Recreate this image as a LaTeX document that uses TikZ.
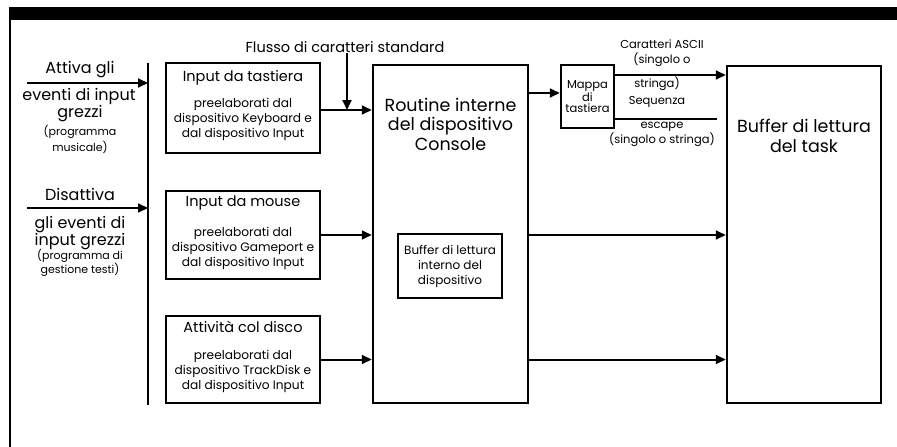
\documentclass[tikz,border=0pt]{standalone}
\usepackage{fontspec}
\setmainfont{Poppins}
\usetikzlibrary{arrows.meta}
\begin{document}
\begin{tikzpicture}[x=1pt,y=-1pt,
  box/.style={draw,line width=2.5pt,inner sep=0pt,fill=white},
  arr/.style={line width=2pt,-{Triangle[length=10pt,width=9pt]}},
  plain/.style={line width=2pt},
  lbl/.style={inner sep=0pt,align=center,font=\fontsize{14.5}{17}\selectfont},
  lft/.style={inner sep=0pt,align=center,font=\fontsize{16}{17.5}\selectfont},
  sml/.style={inner sep=0pt,align=center,font=\fontsize{11.5}{15}\selectfont},
  sub/.style={inner sep=0pt,align=center,font=\fontsize{12.2}{15}\selectfont},
  big/.style={inner sep=0pt,align=center,font=\fontsize{17.5}{19.5}\selectfont}]
\useasboundingbox (0,0) rectangle (897,447);
% frame
\fill (9,7) rectangle (897,20);
\draw[line width=2pt] (10,7) -- (10,447);
% vertical bar
\coordinate (bt) at (148,63);
\coordinate (bb) at (148,405);
\draw[line width=1.5pt] (bt) -- (bb);
% left labels and arrows
\coordinate (a1) at (27,83);
\coordinate (a2) at (27,208);
\draw[arr] (a1) -- (a1 -| bt);
\draw[arr] (a2) -- (a2 -| bt);
\node[lft] (t1) at (80,70) {Attiva gli};
\node[lft] (t2) at (79,96) {eventi di input};
\node[lft] (t3) at (80,114) {grezzi};
\node[sml,font=\fontsize{11}{16}\selectfont] (t4) at (80,139) {(programma\\musicale)};
\node[lft] (t5) at (80,194) {Disattiva};
\node[lft] (t6) at (80,233) {gli eventi di\\input grezzi};
\node[sml,font=\fontsize{11}{14}\selectfont] (t7) at (80,263) {(programma di\\gestione testi)};
% input boxes
\node[box,minimum width=154pt,minimum height=90pt] (kb) at (243,108) {};
\node[box,minimum width=154pt,minimum height=88pt] (ms) at (243,235) {};
\node[box,minimum width=154pt,minimum height=87pt] (dk) at (243,359.5) {};
\node[lbl] (kbt) at (243,78) {Input da tastiera};
\node[sub] (kbs) at (243,119) {preelaborati dal\\dispositivo Keyboard e\\dal dispositivo Input};
\node[lbl] (mst) at (243,203) {Input da mouse};
\node[sub] (mss) at (243,248) {preelaborati dal\\dispositivo Gameport e\\dal dispositivo Input};
\node[lbl] (dkt) at (243,327) {Attività col disco};
\node[sub] (dks) at (243,371) {preelaborati dal\\dispositivo TrackDisk e\\dal dispositivo Input};
% console
\node[box,minimum width=155pt,minimum height=338pt] (con) at (450.5,234) {};
\node[big] (cont) at (450.5,124) {Routine interne\\del dispositivo\\Console};
\node[box,minimum width=104pt,minimum height=64pt,align=center,
  font=\fontsize{12}{15}\selectfont] (ib) at (450,266) {Buffer di lettura\\interno del\\dispositivo};
% mappa
\node[box,minimum width=53pt,minimum height=63pt,align=center,
  font=\fontsize{11.5}{11.5}\selectfont] (map) at (587.5,96.5) {Mappa\\di\\tastiera};
% task buffer
\node[box,minimum width=154pt,minimum height=337pt] (task) at (804,234.5) {};
\node[big] (taskt) at (804,136) {Buffer di lettura\\del task};
% flusso
\node[lbl] (fl) at (345,47) {Flusso di caratteri standard};
\coordinate (fj) at (347,110);
\draw[arr] ([yshift=-2pt]kb.east) -- ([yshift=-2pt]kb.east -| con.west);
\draw[arr] (fl.south -| fj) -- (fj);
\draw[arr] (ms.east) -- (ms.east -| con.west);
\draw[arr] (dk.east) -- (dk.east -| con.west);
% console to mappa
\draw[arr] ([yshift=3.5pt]map.west -| con.east) -- ([yshift=3.5pt]map.west);
% mappa outputs
\draw[arr] ([yshift=21.5pt]map.east) -- ([yshift=21.5pt]map.east -| task.west);
\coordinate (se) at (717,119);
\draw[plain] (se -| map.east) -- (se);
\node[sml] (c1) at (662,53.5) {Caratteri ASCII\\(singolo o};
\node[sml] (c2) at (657,84) {stringa)};
\node[sml] (c3) at (657,102) {Sequenza};
\node[sml] (c4) at (662,134) {escape\\(singolo o stringa)};
% console to task
\draw[arr] (con.east |- ms.east) -- (task.west |- ms.east);
\draw[arr] (con.east |- dk.east) -- (task.west |- dk.east);
\end{tikzpicture}
\end{document}
